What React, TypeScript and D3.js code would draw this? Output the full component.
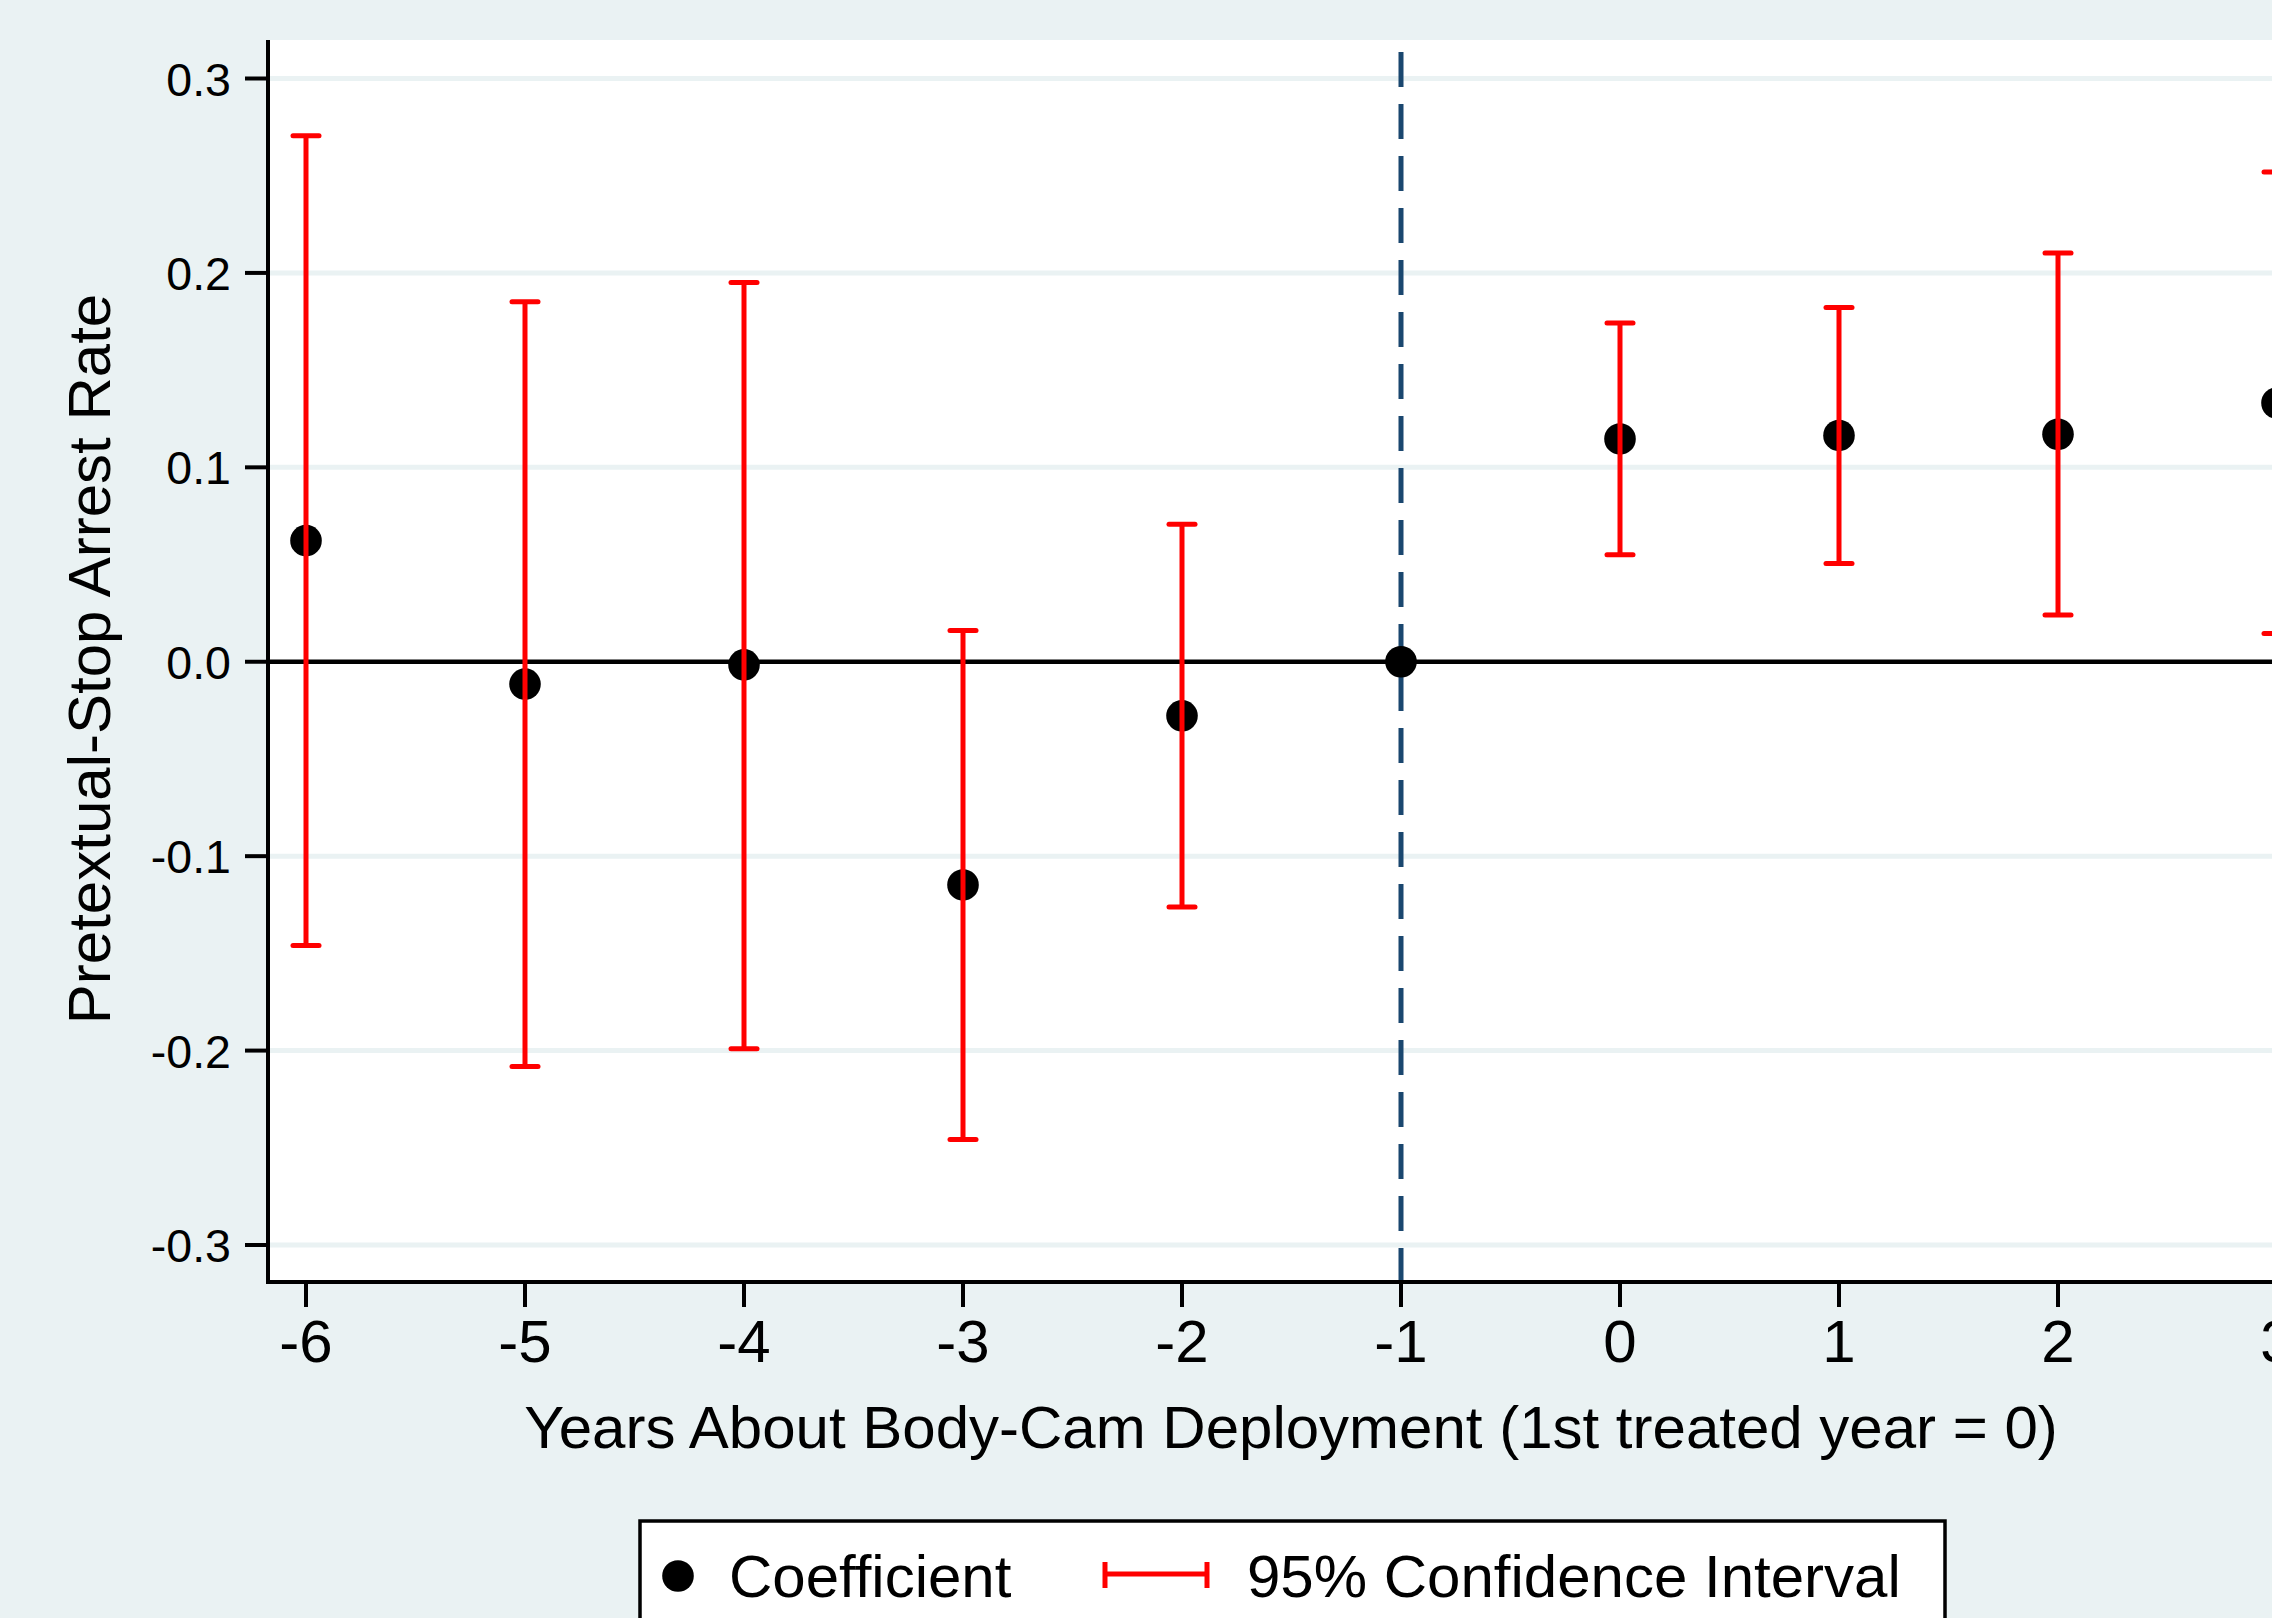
import React from 'react';
import * as d3 from 'd3';

// event-study estimates
const years = [-6, -5, -4, -3, -2, -1, 0, 1, 2, 3];
const coef = [0.0623, -0.0115, -0.0016, -0.1148, -0.0278, 0, 0.1146, 0.1164, 0.117, 0.1331];
const ciLower = [-0.1459, -0.2082, -0.199, -0.2457, -0.1262, null, 0.055, 0.0505, 0.024, 0.0145];
const ciUpper = [0.2705, 0.1852, 0.1951, 0.0161, 0.0707, null, 0.1743, 0.1822, 0.2102, 0.2519];

const yTicks = [-0.3, -0.2, -0.1, 0, 0.1, 0.2, 0.3];
const xTicks = [-6, -5, -4, -3, -2, -1, 0, 1, 2, 3];
const refYear = -1;

const W = 2272;
const H = 1618;
const BG = '#eaf2f3';
const FONT = '"Liberation Sans", Arial, Helvetica, sans-serif';

const App = () => {
    const left = 268;
    const top = 40;
    const bottom = 1282;

    const x = d3.scaleLinear().domain([-6, 3]).range([306, 2277]);
    const y = d3.scaleLinear().domain([-0.3, 0.3]).range([1245, 78.5]);

    const capHalf = 13;

    return (
        <svg width={W} height={H} style={{ position: 'absolute', left: 0, top: 0, display: 'block' }}
            fontFamily={FONT}>
            <rect x={0} y={0} width={W} height={H} fill={BG} />
            {/* plot region */}
            <rect x={left} y={top} width={W - left} height={bottom - top} fill="#fff" />

            {/* grid lines */}
            {yTicks.filter(t => t !== 0).map(t => (
                <line key={'g' + t} x1={left} x2={W} y1={y(t)} y2={y(t)} stroke={BG} strokeWidth={5} />
            ))}

            {/* reference lines */}
            <line x1={left} x2={W} y1={y(0)} y2={y(0)} stroke="#000" strokeWidth={4.5} />
            <line x1={x(refYear)} x2={x(refYear)} y1={52} y2={bottom} stroke="#1a476f"
                strokeWidth={5} strokeDasharray="35 17" />

            {/* coefficients */}
            {years.map((yr, i) => (
                <circle key={'c' + yr} cx={x(yr)} cy={y(coef[i])} r={15.8} fill="#000" />
            ))}

            {/* confidence intervals */}
            {years.map((yr, i) => {
                const lo = ciLower[i];
                const hi = ciUpper[i];
                if (lo === null || hi === null) return null;
                const cx = x(yr);
                return (
                    <g key={'ci' + yr} stroke="#ff0000" strokeWidth={5} strokeLinecap="round">
                        <line x1={cx} x2={cx} y1={y(hi)} y2={y(lo)} strokeLinecap="butt" />
                        <line x1={cx - capHalf} x2={cx + capHalf} y1={y(hi)} y2={y(hi)} />
                        <line x1={cx - capHalf} x2={cx + capHalf} y1={y(lo)} y2={y(lo)} />
                    </g>
                );
            })}

            {/* y axis */}
            <line x1={left} x2={left} y1={top} y2={bottom + 2} stroke="#000" strokeWidth={4} />
            {yTicks.map(t => (
                <g key={'yt' + t}>
                    <line x1={245} x2={left} y1={y(t)} y2={y(t)} stroke="#000" strokeWidth={4} />
                    <text x={231} y={y(t) + 17} textAnchor="end" fontSize={46.5} fill="#000">
                        {t.toFixed(1)}
                    </text>
                </g>
            ))}
            <text transform={`translate(110, 659) rotate(-90)`} textAnchor="middle" fontSize={60} fill="#000">
                Pretextual-Stop Arrest Rate
            </text>

            {/* x axis */}
            <line x1={left - 2} x2={W} y1={bottom} y2={bottom} stroke="#000" strokeWidth={4} />
            {xTicks.map(t => (
                <g key={'xt' + t}>
                    <line x1={x(t)} x2={x(t)} y1={bottom} y2={bottom + 25} stroke="#000" strokeWidth={4} />
                    <text x={x(t)} y={1362} textAnchor="middle" fontSize={60} fill="#000">{t}</text>
                </g>
            ))}
            <text x={1291} y={1448} textAnchor="middle" fontSize={60} fill="#000">
                Years About Body-Cam Deployment (1st treated year = 0)
            </text>

            {/* legend */}
            <rect x={640} y={1521} width={1305} height={200} fill="#fff" stroke="#000" strokeWidth={3.5} />
            <circle cx={678} cy={1576} r={15.8} fill="#000" />
            <text x={729} y={1597} fontSize={60} fill="#000">Coefficient</text>
            <g stroke="#ff0000" strokeWidth={5}>
                <line x1={1103} x2={1209} y1={1574} y2={1574} />
                <line x1={1105} x2={1105} y1={1562} y2={1588} />
                <line x1={1207} x2={1207} y1={1562} y2={1588} />
            </g>
            <text x={1247} y={1597} fontSize={60} fill="#000">95% Confidence Interval</text>
        </svg>
    );
};

export default App;
